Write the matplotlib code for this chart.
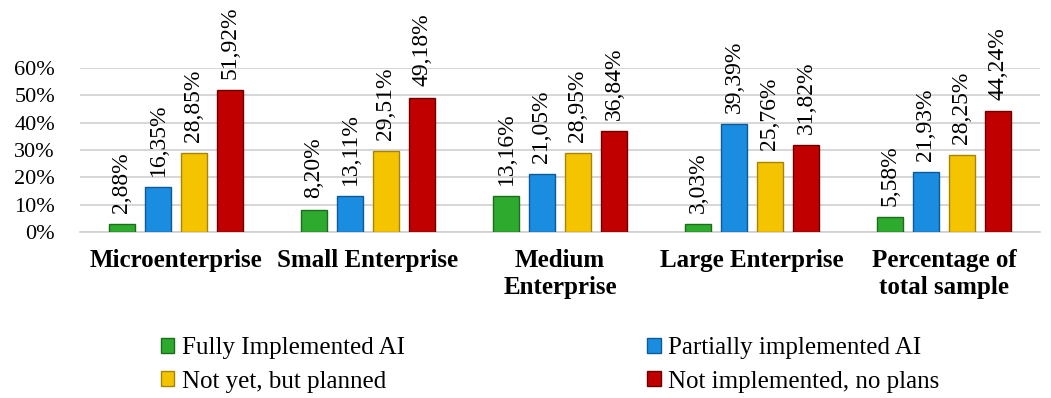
import matplotlib
matplotlib.use("Agg")
import matplotlib.pyplot as plt
import numpy as np
from matplotlib.patches import Patch

categories = ["Microenterprise", "Small Enterprise", "Medium\nEnterprise",
              "Large Enterprise", "Percentage of\ntotal sample"]
series_names = ["Fully Implemented AI", "Partially implemented AI",
                "Not yet, but planned", "Not implemented, no plans"]
fully = [2.88, 8.20, 13.16, 3.03, 5.58]
partially = [16.35, 13.11, 21.05, 39.39, 21.93]
planned = [28.85, 29.51, 28.95, 25.76, 28.25]
no_plans = [51.92, 49.18, 36.84, 31.82, 44.24]
yticks = [0, 10, 20, 30, 40, 50, 60]

colors = ["#2eaa2e", "#1a8de0", "#f5c400", "#c00000"]
edges = ["#1a6e1a", "#0c5a99", "#a88500", "#6e0000"]

plt.rcParams['font.family'] = ['Liberation Serif', 'DejaVu Serif']

fig = plt.figure(figsize=(10.51, 3.98), dpi=100)
ax = fig.add_axes([80/1051, 166/398, 960/1051, 164/398])

x = np.arange(len(categories))
width = 0.14
step = 0.1875
data = [fully, partially, planned, no_plans]
for i, vals in enumerate(data):
    pos = x + (i - 1.5) * step
    bars = ax.bar(pos, vals, width, color=colors[i], edgecolor=edges[i],
                  linewidth=1.0, zorder=3)
    for b, v in zip(bars, vals):
        ax.annotate(f"{v:.2f}%".replace(".", ","),
                    xy=(b.get_x() + b.get_width() / 2, v),
                    xytext=(0, 8), textcoords="offset points", rotation=90,
                    ha="center", va="bottom", fontsize=17,
                    annotation_clip=False)

ax.set_ylim(0, 60)
ax.set_xlim(-0.5, len(categories) - 0.5)
ax.set_yticks(yticks)
ax.set_yticklabels([f"{t}%" for t in yticks], fontsize=16)
ax.set_xticks(x)
ax.set_xticklabels(categories, fontsize=18, fontweight="bold", linespacing=1.25)
ax.tick_params(axis="both", length=0)
ax.tick_params(axis="x", pad=12)
ax.tick_params(axis="y", pad=18)
ax.grid(axis="y", color="#d0d0d0", linewidth=1.2, zorder=0)
for s in ["top", "right", "left"]:
    ax.spines[s].set_visible(False)
ax.spines["bottom"].set_color("#d0d0d0")
ax.spines["bottom"].set_linewidth(1.2)

order = [0, 2, 1, 3]
handles = [Patch(facecolor=colors[i], edgecolor=edges[i], label=series_names[i]) for i in order]
fig.legend(handles=handles, loc="center left", bbox_to_anchor=(138/1051, (398-365)/398),
           ncol=2, frameon=False, fontsize=18, handlelength=0.55, handleheight=0.55,
           handletextpad=0.3, columnspacing=9.7, labelspacing=0.45)

fig.savefig("out.png", dpi=100)
